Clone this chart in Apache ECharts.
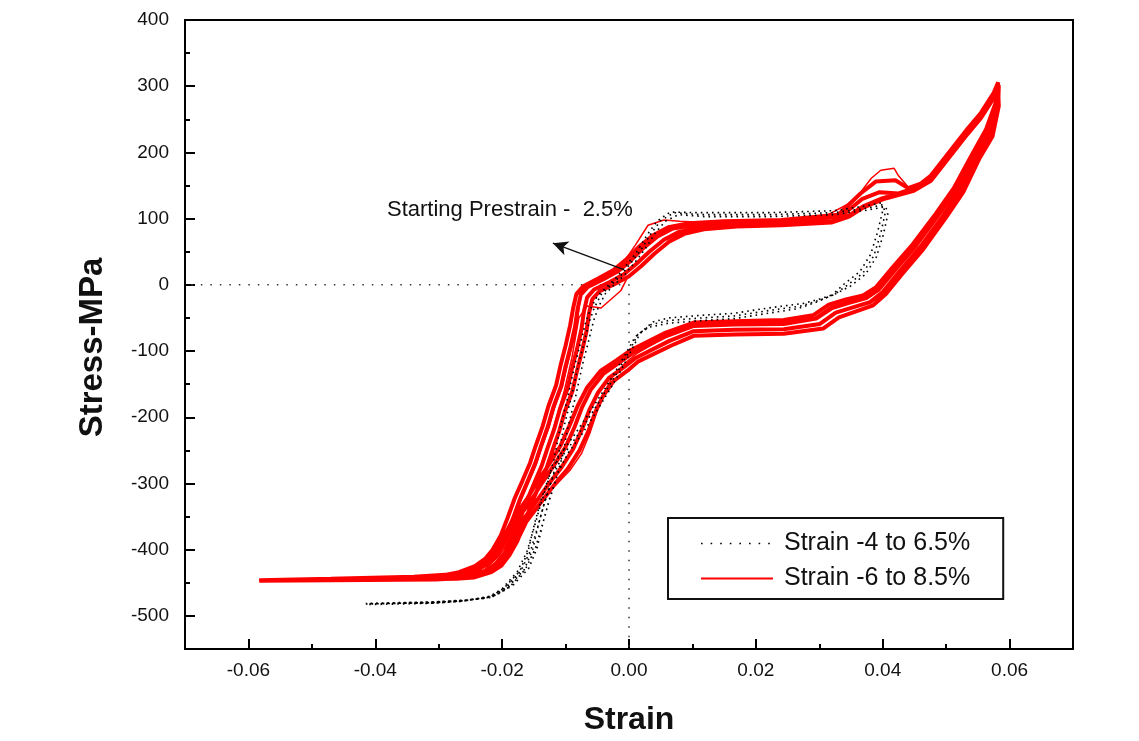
<!DOCTYPE html>
<html>
<head>
<meta charset="utf-8">
<script src="https://cdn.jsdelivr.net/npm/echarts@6/dist/echarts.min.js"></script>
<style>
html,body{margin:0;padding:0;background:#fff;}
#chart{width:1139px;height:741px;}
</style>
</head>
<body>
<div id="chart"></div>
<script>
// ---- data: [strain, stress MPa] ----
const seriesNames = ['Strain -4 to 6.5%', 'Strain -6 to 8.5%'];

// Red: strain -6 to 8.5 %, several cycles (cycle 0 = first, thin outlying loops)
const redCycle0 = [
[-0.0002,12],[-0.0013,-9],[-0.0044,-35],[-0.0066,-32],[-0.0079,-50],[-0.0090,-110],[-0.0102,-160],[-0.0120,-220],[-0.0140,-280],[-0.0160,-330],[-0.0185,-380],[-0.0205,-410],[-0.0230,-432],[-0.0265,-441],[-0.0350,-444],[-0.0470,-445],[-0.0583,-446],
[-0.0470,-445],[-0.0339,-443],[-0.0283,-441],[-0.0260,-438],[-0.0233,-429],[-0.0217,-418],[-0.0205,-403],[-0.0192,-381],[-0.0181,-354],[-0.0170,-325],[-0.0158,-298],[-0.0146,-271],[-0.0137,-245],[-0.0126,-215],[-0.0117,-185],[-0.0105,-154],[-0.0098,-124],[-0.0090,-94],[-0.0083,-64],[-0.0079,-37],[-0.0076,-15],[-0.0060,0],[-0.0035,10],[-0.0015,25],[0.0010,60],[0.0030,90],[0.0055,98],[0.0080,96],[0.0120,94],[0.0200,96],[0.0300,99],[0.0355,127],[0.0382,161],[0.0397,173],[0.0418,176],[0.0424,166],[0.0445,142],[0.0476,162],[0.0497,188],[0.0534,233],[0.0555,257],[0.0575,287],[0.0583,302],
[0.0581,278],[0.0565,233],[0.0540,192],[0.0514,145],[0.0487,107],[0.0451,61],[0.0419,25],[0.0392,-6],[0.0372,-18],[0.0345,-25],[0.0318,-33],[0.0293,-49],[0.0244,-56],[0.0166,-58],[0.0102,-60],[0.0062,-76],[0.0012,-104],[-0.0006,-118],[-0.0024,-136],[-0.0038,-160],[-0.0050,-190],[-0.0062,-225],[-0.0075,-255],[-0.0093,-280],[-0.0118,-305],[-0.0140,-330],[-0.0165,-358],[-0.0186,-385],[-0.0203,-406],[-0.0220,-422],[-0.0240,-432],[-0.0268,-440],[-0.0330,-443],[-0.0470,-445],[-0.0583,-446]
];
const redCycle1 = [
[-0.0583,-446],[-0.0470,-444],[-0.0339,-441],[-0.0290,-438],[-0.0268,-434],[-0.0243,-425],[-0.0227,-414],[-0.0215,-400],[-0.0202,-378],[-0.0191,-351],[-0.0180,-322],[-0.0168,-296],[-0.0156,-269],[-0.0147,-243],[-0.0136,-213],[-0.0127,-183],[-0.0115,-152],[-0.0108,-122],[-0.0100,-92],[-0.0093,-62],[-0.0088,-35],[-0.0083,-14],[-0.0072,-2],[-0.0048,10],[-0.0025,22],[-0.0006,37],[0.0015,57],[0.0038,75],[0.0062,87],[0.0095,93],[0.0150,96],[0.0240,98],[0.0330,106],[0.0365,138],[0.0389,156],[0.0420,158],[0.0440,146],[0.0460,153],[0.0476,165],[0.0497,191],[0.0534,236],[0.0555,260],[0.0575,290],[0.0582,306],
[0.0580,280],[0.0563,235],[0.0538,192],[0.0512,146],[0.0484,108],[0.0448,62],[0.0416,27],[0.0389,-4],[0.0369,-16],[0.0342,-22],[0.0315,-30],[0.0290,-46],[0.0244,-53],[0.0166,-55],[0.0102,-57],[0.0058,-72],[0.0004,-98],[-0.0020,-114],[-0.0045,-130],[-0.0066,-155],[-0.0081,-183],[-0.0094,-213],[-0.0108,-243],[-0.0126,-271],[-0.0145,-298],[-0.0160,-322],[-0.0182,-352],[-0.0197,-380],[-0.0212,-402],[-0.0226,-417],[-0.0242,-428],[-0.0268,-437],[-0.0320,-441],[-0.0470,-444],[-0.0583,-446]
];
const redCycle2 = [
[-0.0583,-446],[-0.0470,-445],[-0.0339,-442],[-0.0285,-440],[-0.0262,-437],[-0.0235,-428],[-0.0219,-417],[-0.0207,-402],[-0.0194,-380],[-0.0183,-353],[-0.0172,-324],[-0.0160,-297],[-0.0148,-270],[-0.0139,-244],[-0.0128,-214],[-0.0119,-184],[-0.0107,-153],[-0.0100,-123],[-0.0092,-93],[-0.0085,-63],[-0.0081,-36],[-0.0076,-15],[-0.0065,-3],[-0.0041,8],[-0.0018,20],[0.0001,35],[0.0022,55],[0.0045,73],[0.0069,85],[0.0102,90],[0.0160,93],[0.0240,95],[0.0335,104],[0.0368,130],[0.0395,140],[0.0425,138],[0.0450,146],[0.0476,162],[0.0497,188],[0.0534,233],[0.0555,257],[0.0575,287],[0.0583,302],
[0.0581,276],[0.0565,231],[0.0542,192],[0.0516,144],[0.0489,107],[0.0453,60],[0.0421,24],[0.0394,-7],[0.0374,-20],[0.0347,-27],[0.0320,-35],[0.0295,-51],[0.0244,-59],[0.0166,-60],[0.0102,-62],[0.0060,-77],[0.0006,-103],[-0.0016,-118],[-0.0040,-134],[-0.0060,-158],[-0.0074,-185],[-0.0086,-215],[-0.0100,-245],[-0.0118,-272],[-0.0137,-299],[-0.0152,-322],[-0.0176,-354],[-0.0190,-381],[-0.0205,-403],[-0.0219,-418],[-0.0235,-429],[-0.0262,-439],[-0.0315,-442],[-0.0470,-445],[-0.0583,-446]
];
const redCycle3 = [
[-0.0583,-447],[-0.0470,-446],[-0.0339,-444],[-0.0278,-443],[-0.0252,-441],[-0.0225,-432],[-0.0209,-421],[-0.0197,-406],[-0.0184,-384],[-0.0173,-357],[-0.0162,-328],[-0.0150,-301],[-0.0138,-274],[-0.0129,-248],[-0.0118,-218],[-0.0109,-188],[-0.0097,-157],[-0.0090,-127],[-0.0082,-97],[-0.0075,-67],[-0.0071,-40],[-0.0066,-19],[-0.0055,-7],[-0.0031,4],[-0.0008,16],[0.0011,31],[0.0032,50],[0.0055,68],[0.0079,80],[0.0110,86],[0.0165,90],[0.0240,92],[0.0319,96],[0.0347,105],[0.0370,119],[0.0400,131],[0.0449,144],[0.0476,159],[0.0497,185],[0.0534,230],[0.0555,254],[0.0575,284],[0.0583,299],
[0.0582,272],[0.0568,227],[0.0547,191],[0.0522,142],[0.0495,104],[0.0459,57],[0.0427,21],[0.0400,-11],[0.0380,-26],[0.0353,-34],[0.0326,-42],[0.0301,-59],[0.0244,-67],[0.0166,-68],[0.0102,-70],[0.0063,-85],[0.0011,-110],[-0.0009,-125],[-0.0031,-140],[-0.0049,-163],[-0.0062,-188],[-0.0074,-218],[-0.0088,-248],[-0.0106,-275],[-0.0126,-300],[-0.0143,-323],[-0.0168,-356],[-0.0182,-384],[-0.0196,-406],[-0.0210,-421],[-0.0226,-432],[-0.0252,-441],[-0.0310,-444],[-0.0470,-446],[-0.0583,-447]
];
const redCycle4 = [
[-0.0583,-447],[-0.0470,-446],[-0.0339,-445],[-0.0272,-444],[-0.0245,-442],[-0.0217,-434],[-0.0201,-424],[-0.0189,-409],[-0.0176,-387],[-0.0165,-360],[-0.0154,-331],[-0.0142,-304],[-0.0130,-277],[-0.0121,-251],[-0.0110,-221],[-0.0101,-191],[-0.0089,-160],[-0.0082,-130],[-0.0074,-100],[-0.0067,-70],[-0.0063,-43],[-0.0058,-22],[-0.0047,-10],[-0.0023,1],[0.0000,13],[0.0019,28],[0.0040,47],[0.0063,65],[0.0087,77],[0.0118,84],[0.0170,88],[0.0240,90],[0.0319,94],[0.0347,103],[0.0370,117],[0.0400,129],[0.0449,142],[0.0476,157],[0.0497,183],[0.0534,228],[0.0555,252],[0.0575,282],[0.0582,297],
[0.0583,270],[0.0573,224],[0.0552,190],[0.0527,140],[0.0500,102],[0.0464,54],[0.0432,18],[0.0405,-14],[0.0385,-31],[0.0358,-40],[0.0331,-49],[0.0306,-66],[0.0244,-74],[0.0166,-75],[0.0102,-77],[0.0066,-92],[0.0014,-116],[-0.0003,-130],[-0.0024,-145],[-0.0041,-168],[-0.0053,-192],[-0.0064,-221],[-0.0078,-250],[-0.0096,-277],[-0.0117,-301],[-0.0136,-325],[-0.0162,-358],[-0.0176,-386],[-0.0190,-408],[-0.0203,-423],[-0.0219,-434],[-0.0245,-442],[-0.0305,-445],[-0.0470,-446],[-0.0583,-447]
];

// Black: strain -4 to 6.5 %, several cycles
const blackCycle1 = [
[-0.0415,-482],[-0.0312,-480],[-0.0260,-477],[-0.0218,-472],[-0.0194,-457],[-0.0170,-431],[-0.0155,-401],[-0.0144,-366],[-0.0134,-332],[-0.0123,-299],[-0.0112,-261],[-0.0103,-216],[-0.0091,-170],[-0.0080,-121],[-0.0071,-88],[-0.0063,-57],[-0.0055,-35],[-0.0044,-15],[-0.0028,0],[-0.0013,14],[0.0003,33],[0.0019,53],[0.0035,78],[0.0050,97],[0.0071,109],[0.0114,106],[0.0219,106],[0.0323,109],[0.0377,116],[0.0400,121],
[0.0404,109],[0.0397,78],[0.0386,44],[0.0369,18],[0.0345,0],[0.0323,-15],[0.0298,-24],[0.0271,-32],[0.0219,-39],[0.0166,-47],[0.0114,-50],[0.0062,-54],[0.0035,-60],[0.0014,-75],[0.0003,-95],[-0.0017,-130],[-0.0033,-155],[-0.0060,-196],[-0.0080,-226],[-0.0103,-256],[-0.0118,-284],[-0.0131,-321],[-0.0142,-359],[-0.0152,-400],[-0.0165,-430],[-0.0190,-456],[-0.0215,-471],[-0.0260,-477],[-0.0312,-480],[-0.0415,-482]
];
const blackCycle2 = [
[-0.0415,-481],[-0.0312,-479],[-0.0255,-476],[-0.0212,-470],[-0.0187,-455],[-0.0163,-429],[-0.0148,-399],[-0.0137,-364],[-0.0127,-330],[-0.0116,-297],[-0.0105,-259],[-0.0096,-214],[-0.0084,-168],[-0.0073,-119],[-0.0064,-86],[-0.0056,-55],[-0.0048,-33],[-0.0037,-13],[-0.0021,2],[-0.0006,16],[0.0010,35],[0.0026,55],[0.0042,79],[0.0057,96],[0.0078,106],[0.0120,103],[0.0219,103],[0.0323,106],[0.0377,113],[0.0405,118],
[0.0408,106],[0.0401,76],[0.0390,42],[0.0373,16],[0.0349,-2],[0.0327,-13],[0.0302,-21],[0.0275,-28],[0.0219,-35],[0.0166,-43],[0.0114,-46],[0.0062,-50],[0.0038,-56],[0.0018,-72],[0.0007,-93],[-0.0012,-128],[-0.0027,-153],[-0.0053,-194],[-0.0073,-224],[-0.0096,-254],[-0.0111,-282],[-0.0124,-319],[-0.0135,-357],[-0.0145,-398],[-0.0158,-428],[-0.0183,-454],[-0.0210,-469],[-0.0255,-476],[-0.0312,-479],[-0.0415,-481]
];
const blackCycle3 = [
[-0.0415,-483],[-0.0312,-481],[-0.0265,-478],[-0.0224,-473],[-0.0200,-459],[-0.0176,-433],[-0.0161,-403],[-0.0150,-368],[-0.0140,-334],[-0.0129,-301],[-0.0118,-263],[-0.0109,-218],[-0.0097,-172],[-0.0086,-123],[-0.0077,-90],[-0.0069,-59],[-0.0061,-37],[-0.0050,-17],[-0.0034,-2],[-0.0019,12],[-0.0003,31],[0.0013,51],[0.0029,76],[0.0044,96],[0.0065,110],[0.0108,109],[0.0219,109],[0.0323,112],[0.0372,119],[0.0398,124],
[0.0400,112],[0.0392,80],[0.0381,46],[0.0364,20],[0.0340,2],[0.0318,-17],[0.0293,-27],[0.0266,-36],[0.0219,-43],[0.0166,-51],[0.0114,-54],[0.0062,-58],[0.0032,-64],[0.0010,-78],[-0.0001,-97],[-0.0022,-132],[-0.0038,-157],[-0.0066,-198],[-0.0087,-228],[-0.0110,-258],[-0.0125,-286],[-0.0138,-323],[-0.0149,-361],[-0.0159,-402],[-0.0172,-432],[-0.0197,-458],[-0.0220,-472],[-0.0265,-478],[-0.0312,-481],[-0.0415,-483]
];

// dotted reference lines (zero stress / zero strain) and the prestrain arrow
const refLine = [[-0.069,0],[0,0],[0,-550]];
const arrowFrom = [-0.0008, 23];
const arrowTo = [-0.0120, 63];
const annotationText = 'Starting Prestrain -  2.5%';

// axes
const xRange = [-0.07, 0.07];
const yRange = [-550, 400];
const xTickValues = [-0.06, -0.04, -0.02, 0.00, 0.02, 0.04, 0.06];
const xMinorValues = [-0.05, -0.03, -0.01, 0.01, 0.03, 0.05];
const yTickValues = [-500, -400, -300, -200, -100, 0, 100, 200, 300, 400];
const yMinorValues = [-450, -350, -250, -150, -50, 50, 150, 250, 350];
const xTitle = 'Strain';
const yTitle = 'Stress-MPa';

const FONT = '"Liberation Sans", Arial, sans-serif';
const chart = echarts.init(document.getElementById('chart'), null, {renderer: 'canvas'});

const redMainData = [].concat(redCycle1, redCycle2, redCycle3, redCycle4);
const blackData = [].concat(blackCycle1, blackCycle2, blackCycle3);

const majorAxisX = {
  type: 'value', min: xRange[0], max: xRange[1], position: 'bottom',
  axisLine: {show: true, onZero: false, lineStyle: {color: '#000', width: 2}},
  axisTick: {show: true, inside: true, length: 10, customValues: xTickValues, lineStyle: {color: '#000', width: 2}},
  axisLabel: {show: true, customValues: xTickValues, margin: 12, fontSize: 19, fontFamily: FONT, color: '#111',
              formatter: v => v.toFixed(2)},
  splitLine: {show: false},
  name: xTitle, nameLocation: 'middle', nameGap: 55,
  nameTextStyle: {fontSize: 32, fontWeight: 'bold', fontFamily: FONT, color: '#111'}
};
const minorAxisX = {
  type: 'value', min: xRange[0], max: xRange[1], position: 'bottom',
  axisLine: {show: false, onZero: false},
  axisTick: {show: true, inside: true, length: 5, customValues: xMinorValues, lineStyle: {color: '#000', width: 2}},
  axisLabel: {show: false}, splitLine: {show: false}
};
const majorAxisY = {
  type: 'value', min: yRange[0], max: yRange[1], position: 'left',
  axisLine: {show: true, onZero: false, lineStyle: {color: '#000', width: 2}},
  axisTick: {show: true, inside: true, length: 10, customValues: yTickValues, lineStyle: {color: '#000', width: 2}},
  axisLabel: {show: true, customValues: yTickValues, margin: 16, fontSize: 19, fontFamily: FONT, color: '#111',
              formatter: v => String(v)},
  splitLine: {show: false},
  name: yTitle, nameLocation: 'middle', nameGap: 76, nameRotate: 90,
  nameTextStyle: {fontSize: 33, fontWeight: 'bold', fontFamily: FONT, color: '#111', padding: [0, 26, 0, 0]}
};
const minorAxisY = {
  type: 'value', min: yRange[0], max: yRange[1], position: 'left',
  axisLine: {show: false, onZero: false},
  axisTick: {show: true, inside: true, length: 5, customValues: yMinorValues, lineStyle: {color: '#000', width: 2}},
  axisLabel: {show: false}, splitLine: {show: false}
};

chart.setOption({
  animation: false,
  backgroundColor: '#fff',
  grid: {left: 185, right: 66, top: 20, bottom: 91, show: true, borderColor: '#000', borderWidth: 2, backgroundColor: 'transparent'},
  xAxis: [majorAxisX, minorAxisX],
  yAxis: [majorAxisY, minorAxisY],
  legend: {
    show: true, orient: 'vertical', left: 668, top: 518,
    data: [
      {name: seriesNames[0], lineStyle: {type: [1.6, 8], width: 1.6, color: '#000'}},
      {name: seriesNames[1], lineStyle: {width: 2, color: '#ff0000'}}
    ],
    itemStyle: {opacity: 0},
    itemWidth: 72, itemHeight: 14, itemGap: 10,
    padding: [13, 33, 8, 32],
    borderColor: '#111', borderWidth: 2, backgroundColor: '#fff',
    textStyle: {fontSize: 25, fontFamily: FONT, color: '#111', padding: [0, 0, 0, 6]},
    selectedMode: false
  },
  graphic: [{
    type: 'text', left: 387, top: 199, silent: true,
    style: {text: annotationText, fontSize: 22, fontFamily: FONT, fill: '#111'}
  }],
  series: [
    {
      name: 'ref', type: 'line', data: refLine, symbol: 'none', silent: true, z: 1,
      lineStyle: {color: '#333', width: 1.5, type: [1.5, 8]},
      markLine: {
        silent: true, symbol: ['none', 'arrow'], symbolSize: [11, 15], label: {show: false},
        lineStyle: {color: '#111', width: 1.5, type: 'solid'},
        data: [[{coord: arrowFrom}, {coord: arrowTo}]]
      }
    },
    {
      name: seriesNames[1], type: 'line', data: redMainData, symbol: 'none', showSymbol: false, z: 2,
      color: '#ff0000', lineStyle: {color: '#ff0000', width: 4}
    },
    {
      name: seriesNames[1], type: 'line', data: redCycle0, symbol: 'none', showSymbol: false, z: 2,
      color: '#ff0000', lineStyle: {color: '#ff0000', width: 1.5}
    },
    {
      name: seriesNames[0], type: 'line', data: blackData, symbol: 'none', showSymbol: false, z: 3,
      color: '#000', lineStyle: {color: '#000', width: 1.6, type: [1.6, 4]}
    }
  ]
});
</script>
</body>
</html>
